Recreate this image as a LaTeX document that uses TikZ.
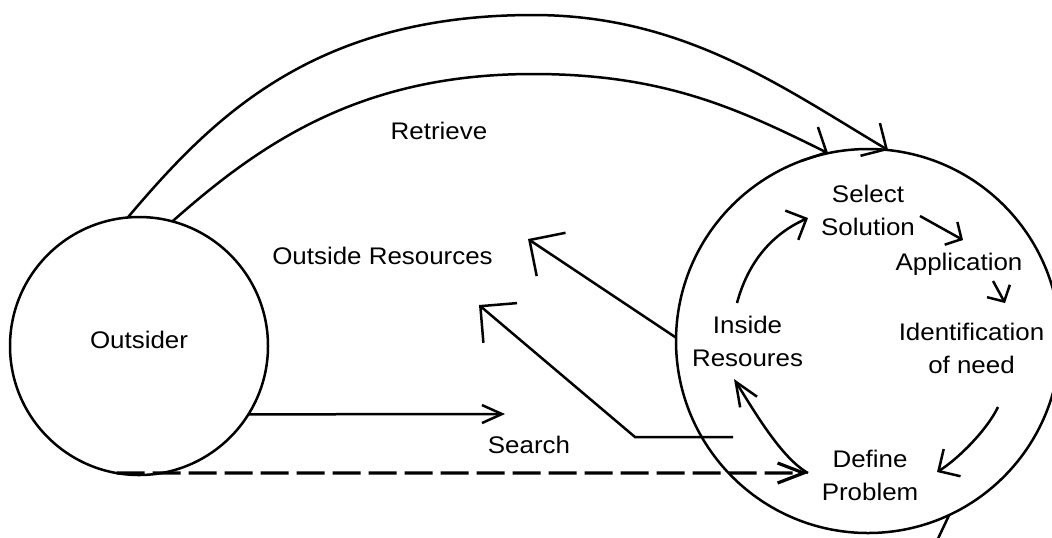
\documentclass[tikz,border=0pt]{standalone}
\usepackage{fontspec}
\setmainfont{Liberation Sans}[FakeStretch=1.08]
\usetikzlibrary{arrows.meta}
\newcommand{\twoline}[2]{\begin{tabular}[t]{@{}c@{}}#1\\#2\end{tabular}}
\begin{document}
\begin{tikzpicture}[x=0.5pt,y=-0.5pt,line width=1.25pt,
  txt/.style={font=\fontsize{12}{16.5}\selectfont},
  lbl/.style={txt,inner sep=0pt,anchor=base},
  bubble/.style={draw,circle,inner sep=0pt,outer sep=0pt},
  conn/.style={-{Straight Barb[length=9.5pt,width=19pt]}},
  srch/.style={-{Straight Barb[length=10pt,width=9pt]}},
  dashconn/.style={line width=1.6pt,dash pattern=on 14pt off 4pt,-{Straight Barb[length=13pt,width=10pt]}},
  bigconn/.style={-{Straight Barb[length=13pt,width=26pt]}},
  midconn/.style={-{Straight Barb[length=8pt,width=16pt]}},
  smallconn/.style={-{Straight Barb[length=6pt,width=13pt]}},
  narrowconn/.style={-{Straight Barb[length=12pt,width=10pt]}}]
\path[fill=white,use as bounding box] (0,0) rectangle (1052,537);

\node[bubble,minimum size=129pt,txt,text depth=6.6pt] (outsider) at (139,346) {Outsider};
\node[bubble,minimum size=192pt] (org) at (868,341) {};

\node[lbl] (retrieve) at (439,139) {Retrieve};
\node[lbl] (outres) at (382.5,264) {Outside Resources};
\node[lbl] (search) at (529,453) {Search};
\node[lbl] (ss) at (868,202) {\twoline{Select}{Solution}};
\node[lbl] (app) at (959,270) {Application};
\node[lbl] (idn) at (971.5,340) {\twoline{Identification}{of need}};
\node[lbl] (ir) at (747.5,333) {\twoline{Inside}{Resoures}};
\node[lbl] (dp) at (870,467) {\twoline{Define}{Problem}};

\coordinate (srchEnd) at (505,414);
\coordinate (dpTip) at (808,473);
\coordinate (orTipA) at (528,239);
\coordinate (orTipB) at (479,305);
\coordinate (orStartB) at (733,437);
\coordinate (orBendB) at (635,437);
\coordinate (irOut) at (737,303);
\coordinate (ssIn) at (808,218);
\coordinate (ssOut) at (920,216);
\coordinate (appIn) at (963,240);
\coordinate (appOut) at (993,281);
\coordinate (idIn) at (1005,303);
\coordinate (idOut) at (998,407);
\coordinate (dpIn) at (937,472);
\coordinate (irIn) at (734,379);
\coordinate (tailEnd) at (935,545);

% Retrieve arcs
\draw[conn] (outsider.95) .. controls (212,118) and (313,15) .. (533,15)
  .. controls (683,15) and (782,87) .. (org.84);
\draw[conn] (outsider.75) .. controls (263,141) and (363,74) .. (533,74)
  .. controls (663,74) and (737,108) .. (org.102);

% Search and dashed
\draw[srch] (outsider.-32) -- (srchEnd);
\draw[dashconn] (outsider.-100) -- (dpTip);

% to Outside Resources
\draw[bigconn] (org.179) -- (orTipA);
\draw[bigconn] (orStartB) -- (orBendB) -- (orTipB);

% inner cycle
\draw[midconn] (irOut) .. controls (748,262) and (772,234) .. (ssIn);
\draw[smallconn] (ssOut) -- (appIn);
\draw[smallconn] (appOut) -- (idIn);
\draw[midconn] (idOut) .. controls (987,430) and (958,459) .. (dpIn);
\draw[narrowconn] (dpTip) .. controls (781,458) and (753,409) .. (irIn);

\draw (org.-65) -- (tailEnd);
\end{tikzpicture}
\end{document}
